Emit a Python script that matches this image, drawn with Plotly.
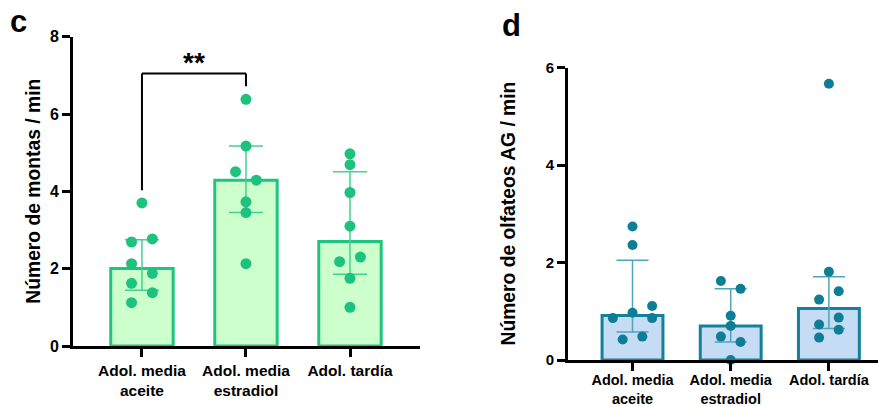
import numpy as np
import plotly.graph_objects as go

# ---------------- data ----------------
categories = ["Adol. media<br>aceite", "Adol. media<br>estradiol", "Adol. tardía"]

montas_aceite = [3.70, 2.69, 2.77, 2.13, 1.88, 1.62, 1.38, 1.12]
montas_estradiol = [6.38, 5.17, 4.51, 4.29, 3.73, 3.45, 2.13]
montas_tardia = [4.97, 4.69, 3.97, 3.10, 2.30, 2.18, 1.75, 1.00]

olfateos_aceite = [2.74, 2.36, 1.11, 0.97, 0.86, 0.86, 0.48, 0.42]
olfateos_estradiol = [1.62, 1.46, 0.91, 0.70, 0.48, 0.37, 0.00]
olfateos_tardia = [5.67, 1.81, 1.41, 1.24, 0.87, 0.73, 0.62, 0.46]

jitter_montas = [
    [0, -0.1, 0.1, -0.1, 0.1, -0.1, 0.1, -0.1],
    [0, 0, -0.1, 0.1, 0, 0, 0],
    [0, 0, 0, 0, 0.1, -0.1, 0, 0],
]
jitter_olfateos = [
    [0, 0, 0.2, 0, -0.2, 0.2, 0.1, -0.1],
    [-0.1, 0.1, 0, 0, -0.1, 0.1, 0],
    [0, 0, 0.1, -0.1, 0.1, -0.1, 0.1, -0.1],
]

y_ticks_montas = [0, 2, 4, 6, 8]
y_ticks_olfateos = [0, 2, 4, 6]
significance_label = "**"
bracket_top = 7.05

y_title_montas = "Número de montas / min"
y_title_olfateos = "Número de olfateos AG / min"

# ---------------- styles ----------------
W, H = 878, 407
FONT = "Liberation Sans, Arial, sans-serif"
green_pt = "#1CC27E"
green_fill = "#CCFFCC"
green_line = "#1FC47F"
green_err = "#45D095"
teal_pt = "#0E7E96"
teal_fill = "#C6DCF4"
teal_line = "#13819A"
teal_err = "#4FA5BA"


def stats(v):
    q1, med, q3 = np.percentile(np.array(v, dtype=float), [25, 50, 75], method="weibull")
    return q1, med, q3


fig = go.Figure()


def add_panel(groups, jitters, xa, ya, fill, line, err, pt, bar_w, cap_w, msize):
    x_idx = list(range(len(groups)))
    meds, up, dn = [], [], []
    for g in groups:
        q1, m, q3 = stats(g)
        meds.append(m)
        up.append(q3 - m)
        dn.append(m - q1)
    fig.add_trace(go.Bar(
        x=x_idx, y=meds, width=bar_w, xaxis=xa, yaxis=ya,
        marker=dict(color=fill, line=dict(color=line, width=3)),
        error_y=dict(type="data", symmetric=False, array=up, arrayminus=dn,
                     color=err, thickness=1.5, width=cap_w),
        showlegend=False, hoverinfo="skip",
    ))
    xs, ys = [], []
    for i, (g, j) in enumerate(zip(groups, jitters)):
        for v, o in zip(g, j):
            xs.append(i + o)
            ys.append(v)
    fig.add_trace(go.Scatter(
        x=xs, y=ys, mode="markers", xaxis=xa, yaxis=ya, cliponaxis=False,
        marker=dict(color=pt, size=msize, line=dict(width=0)),
        showlegend=False, hoverinfo="skip",
    ))


add_panel([montas_aceite, montas_estradiol, montas_tardia], jitter_montas,
          "x", "y", green_fill, green_line, green_err, green_pt, 0.6, 17, 11)
add_panel([olfateos_aceite, olfateos_estradiol, olfateos_tardia], jitter_olfateos,
          "x2", "y2", teal_fill, teal_line, teal_err, teal_pt, 0.62, 16, 10)

# significance bracket
left_leg = max(montas_aceite) + 0.33
right_leg = max(montas_estradiol) + 0.34
for (x0, y0, x1, y1) in [(0, left_leg, 0, bracket_top), (0, bracket_top, 1, bracket_top),
                         (1, bracket_top, 1, right_leg)]:
    fig.add_shape(type="line", xref="x", yref="y", x0=x0, y0=y0, x1=x1, y1=y1,
                  line=dict(color="black", width=2))

axis_common = dict(showline=True, linecolor="black", linewidth=3, ticks="outside",
                   tickcolor="black", tickwidth=3, ticklen=8, showgrid=False,
                   zeroline=False, automargin=False)

def px_x(p):
    return p / W

def px_y(p):
    return (H - p) / H

fig.update_layout(
    template="none",
    width=W, height=H, margin=dict(l=0, r=0, t=0, b=0, pad=0),
    paper_bgcolor="white", plot_bgcolor="white",
    font=dict(family=FONT, color="black"),
    xaxis=dict(domain=[px_x(73), px_x(420)], range=[-0.663, 2.673],
               tickvals=[0, 1, 2], ticktext=categories, anchor="y",
               tickfont=dict(size=15.5, family=FONT, weight="bold"), **axis_common),
    yaxis=dict(domain=[px_y(346), px_y(36.7)], range=[0, 8], tickvals=y_ticks_montas,
               anchor="x", tickfont=dict(size=16, family=FONT, weight="bold"), **axis_common),
    xaxis2=dict(domain=[px_x(568), 1.0], range=[-0.657, 2.5],
                tickvals=[0, 1, 2], ticktext=categories, anchor="y2",
                ticklabelstandoff=-3,
                tickfont=dict(size=14.5, family=FONT, weight="bold"), **axis_common),
    yaxis2=dict(domain=[px_y(360), px_y(67.7)], range=[0, 6], tickvals=y_ticks_olfateos,
                anchor="x2", tickfont=dict(size=15, family=FONT, weight="bold"), **axis_common),
)

annotations = [
    dict(text=significance_label, x=0.5, y=bracket_top - 0.17, xref="x", yref="y",
         showarrow=False, yanchor="bottom", font=dict(size=28, family=FONT, weight="bold")),
    dict(text=y_title_montas, x=px_x(34), y=px_y(191.7), xref="paper", yref="paper",
         xanchor="center", yanchor="middle",
         textangle=-90, showarrow=False, font=dict(size=19.3, family=FONT, weight="bold")),
    dict(text=y_title_olfateos, x=px_x(507.5), y=px_y(214), xref="paper", yref="paper",
         xanchor="center", yanchor="middle",
         textangle=-90, showarrow=False, font=dict(size=19.3, family=FONT, weight="bold")),
    dict(text="c", x=px_x(8), y=px_y(2), xref="paper", yref="paper", xanchor="left",
         yanchor="top", showarrow=False, font=dict(size=31, family=FONT, weight="bold")),
    dict(text="d", x=px_x(500), y=px_y(6), xref="paper", yref="paper", xanchor="left",
         yanchor="top", showarrow=False, font=dict(size=31, family=FONT, weight="bold")),
]
fig.update_layout(annotations=annotations)

fig.write_html(
    "out.html",
    config={"displayModeBar": False},
    post_script="document.body.style.margin='0';document.body.style.overflow='hidden';",
)
